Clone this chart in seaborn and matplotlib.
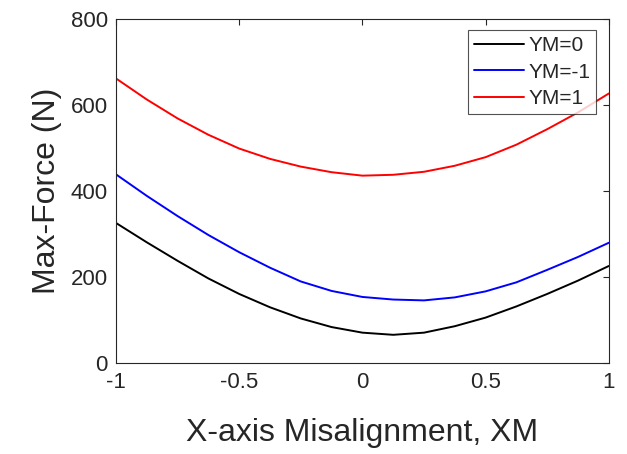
import matplotlib
matplotlib.use("Agg")
import matplotlib.pyplot as plt
import seaborn as sns
import pandas as pd

xm = [-1, -0.875, -0.75, -0.625, -0.5, -0.375, -0.25, -0.125, 0,
      0.125, 0.25, 0.375, 0.5, 0.625, 0.75, 0.875, 1]
ym0 = [326, 281, 238, 197, 161, 130, 104, 84, 71, 66, 71, 86, 106, 132, 161, 192, 226]
ym_m1 = [439, 389, 342, 298, 258, 222, 190, 168, 154, 148, 146, 153, 167, 188, 217, 247, 280]
ym_p1 = [662, 613, 569, 531, 499, 475, 457, 444, 436, 438, 445, 459, 479, 508, 544, 583, 627]
labels = ["YM=0", "YM=-1", "YM=1"]
colors = ["black", "blue", "red"]

rows = []
for lab, vals in zip(labels, [ym0, ym_m1, ym_p1]):
    for x, v in zip(xm, vals):
        rows.append({"XM": x, "F": v, "series": lab})
df = pd.DataFrame(rows)

sns.set_style("white")
plt.rcParams['font.family'] = ['Liberation Sans', 'DejaVu Sans']

fig = plt.figure(figsize=(6.27, 4.54), dpi=100)
ax = fig.add_axes([0.185, 0.2, 0.786, 0.758])
sns.lineplot(data=df, x="XM", y="F", hue="series", hue_order=labels,
             palette=colors, ax=ax, linewidth=1.4, legend=True)

ax.set_xlim(-1, 1)
ax.set_ylim(0, 800)
ax.set_xticks([-1, -0.5, 0, 0.5, 1])
ax.set_xticklabels(["-1", "-0.5", "0", "0.5", "1"])
ax.set_yticks([0, 200, 400, 600, 800])
ax.tick_params(direction="in", length=4, width=0.8, colors="#262626",
               labelsize=16, top=True, right=True, labelcolor="#262626", pad=6)
for s in ax.spines.values():
    s.set_color("#262626")
    s.set_linewidth(0.8)
ax.set_xlabel("X-axis Misalignment, XM", fontsize=23, labelpad=18)
ax.set_ylabel("Max-Force (N)", fontsize=23, labelpad=6)

h, l = ax.get_legend_handles_labels()
leg = ax.legend(h, l, loc="upper right", bbox_to_anchor=(0.975, 0.968),
                fontsize=15, frameon=True, fancybox=False, handlelength=2.4,
                borderpad=0.3, labelspacing=0.35, handletextpad=0.2, borderaxespad=0.0)
leg.get_frame().set_edgecolor("#262626")
leg.get_frame().set_linewidth(0.8)

fig.savefig("out.png", dpi=100)
